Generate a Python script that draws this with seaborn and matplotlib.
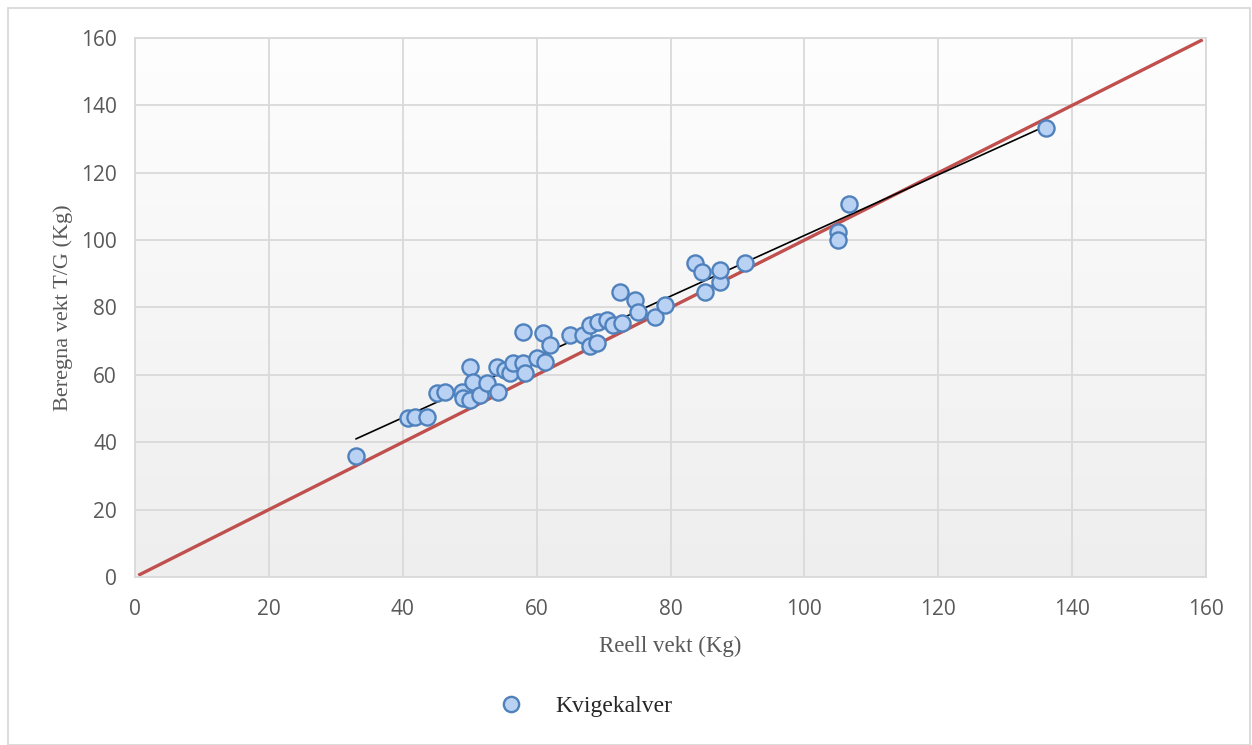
import numpy as np
import pandas as pd
import matplotlib.pyplot as plt
import seaborn as sns
from matplotlib.lines import Line2D
from matplotlib.patches import Rectangle

# Kvigekalver: reell vekt vs beregna vekt (T/G)
reell_vekt = [33.0, 40.8, 41.8, 43.6, 45.1, 46.3, 48.8, 49.0, 50.0, 50.0,
              50.5, 51.5, 52.6, 54.1, 54.2, 55.3, 56.0, 56.5, 58.0, 58.0,
              58.3, 60.1, 61.0, 61.2, 62.0, 65.0, 66.9, 68.0, 69.2, 70.5,
              68.0, 69.0, 71.4, 72.8, 72.5, 74.7, 75.1, 77.7, 79.2, 83.7,
              84.7, 85.1, 87.4, 87.4, 91.1, 105.0, 105.0, 106.7, 136.1]
beregna_vekt = [35.9, 47.2, 47.5, 47.5, 54.6, 54.9, 54.9, 53.1, 62.3, 52.5,
                57.9, 54.0, 57.6, 62.3, 54.9, 61.4, 60.6, 63.5, 72.7, 63.5,
                60.6, 65.0, 72.4, 63.8, 68.9, 71.8, 71.8, 74.8, 75.7, 76.3,
                68.5, 69.5, 74.8, 75.4, 84.6, 82.2, 78.7, 77.2, 80.7, 93.2,
                90.5, 84.6, 87.6, 91.1, 93.2, 102.4, 100.0, 110.7, 133.3]
ref_line = [0.5, 159.5]  # y = x linje
ticks = [0, 20, 40, 60, 80, 100, 120, 140, 160]

df = pd.DataFrame({'reell': reell_vekt, 'beregna': beregna_vekt})

sns.set_style('white')
fig = plt.figure(figsize=(12.52, 7.45), dpi=100)
ax = fig.add_axes([0.1078, 0.2255, 0.8555, 0.7235])

grid_col = '#d9d9d9'
text_col = '#595959'

# bakgrunn med gradient
grad = np.linspace(0, 1, 256).reshape(-1, 1)
ax.imshow(grad, extent=[0, 160, 0, 160], aspect='auto', cmap=sns.blend_palette(['#fefefe', '#eeeeee'], as_cmap=True),
          origin='upper', zorder=0)

ax.plot(ref_line, ref_line, color='#c0504d', lw=2.4, zorder=2, solid_capstyle='butt')

coef = np.polyfit(df['reell'], df['beregna'], 1)
tx = np.array([df['reell'].min(), df['reell'].max()])
ax.plot(tx, np.polyval(coef, tx), color='black', lw=1.2, zorder=3)

sns.scatterplot(data=df, x='reell', y='beregna', ax=ax, s=135, color='#b9d1f3',
                edgecolor='#4f81bd', linewidth=1.7, zorder=4, legend=False)

ax.set_xlim(0, 160)
ax.set_ylim(0, 160)
ax.set_xticks(ticks)
ax.set_yticks(ticks)
ax.grid(True, color=grid_col, lw=1.3, zorder=1)
ax.set_axisbelow(True)
for s in ax.spines.values():
    s.set_color(grid_col)
    s.set_linewidth(1.3)
ax.tick_params(length=0, labelsize=15, labelcolor=text_col)
ax.tick_params(axis='x', pad=16)
ax.tick_params(axis='y', pad=13)
for lab in ax.get_xticklabels() + ax.get_yticklabels():
    lab.set_family('Open Sans')

ax.set_xlabel('Reell vekt (Kg)', family='Liberation Serif', fontsize=16.5, color=text_col, labelpad=11)
ax.set_ylabel('Beregna vekt T/G (Kg)', family='Liberation Serif', fontsize=16, color=text_col, labelpad=6)

handle = Line2D([], [], ls='', marker='o', markersize=11, markerfacecolor='#b9d1f3',
                markeredgecolor='#4f81bd', markeredgewidth=1.7)
fig.legend([handle], ['Kvigekalver'], loc='center', bbox_to_anchor=(0.463, 0.052), frameon=False,
           prop={'family': 'Liberation Serif', 'size': 17}, handletextpad=0.9)

fig.patches.append(Rectangle((0.0065, 0.0), 0.992, 0.989, transform=fig.transFigure,
                             fill=False, edgecolor=grid_col, lw=1.3))

fig.savefig('out.png', dpi=100)
